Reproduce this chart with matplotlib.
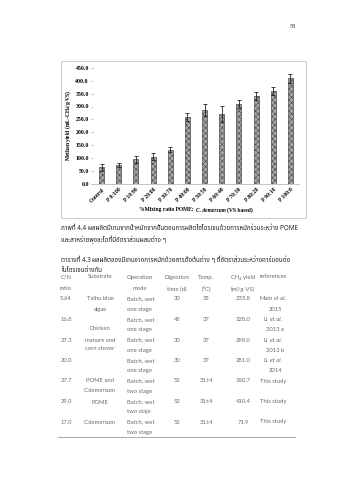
import matplotlib
matplotlib.use("Agg")
import matplotlib.pyplot as plt
from matplotlib import font_manager
from matplotlib.patches import Rectangle
from matplotlib.lines import Line2D

# ---- data ----
categories = ['Control', 'P 0:100', 'P 10:90', 'P 20:80', 'P 30:70', 'P 40:60',
              'P 50:50', 'P 60:40', 'P 70:30', 'P 80:20', 'P 90:10', 'P 100:0']
methane_yield = [63, 71.9, 95, 105, 132, 258, 286, 270, 309, 340, 360.7, 410.4]
yield_err = [14, 7, 14, 12, 11, 15, 23, 31, 16, 16, 17, 18]
y_ticks = [0, 50, 100, 150, 200, 250, 300, 350, 400, 450]

table_header = [["C/N", "ratio"], ["Substrate", ""], ["Operation", "mode"],
                ["Digestion", "time (d)"], ["Temp.", "(°C)"],
                ["CH₄ yield", "(ml/g-VS)"], ["references", ""]]
cn_ratio = ["5.64", "16.8", "27.3", "20.0", "27.7", "29.0", "17.0"]
operation = ["Batch, wet", "Batch, wet", "Batch, wet", "Batch, wet",
             "Batch, wet", "Batch, wet", "Batch, wet"]
stage = ["one stage", "one stage", "one stage", "one stage",
         "two stage", "two staje", "two stage"]
digestion_days = ["30", "45", "30", "30", "52", "52", "52"]
temperature = ["35", "37", "37", "37", "31±4", "31±4", "31±4"]
ch4_yield = ["233.8", "328.0", "298.0", "281.0", "360.7", "410.4", "71.9"]
ref_author = ["Maio", "Li", "Li", "Li", "This study", "This study", "This study"]
ref_year = ["2015", "2013 a", "2013 b", "2014", "", "", ""]

fig_caption_bold = "ภาพที่ 4.4"
fig_caption_1 = "ผลผลิตมีเทนจากน้ำหมักจากขั้นตอนการผลิตไฮโดรเจนด้วยการหมักร่วมระหว่าง POME"
fig_caption_2 = "และสาหร่ายพุงชะโดที่มีอัตราส่วนผสมต่าง ๆ"
tab_caption_bold = "ตารางที่ 4.3"
tab_caption_1 = "ผลผลิตของมีเทนจากการหมักด้วยสารตั้งต้นต่าง ๆ ที่อัตราส่วนระหว่างคาร์บอนต่อ"
tab_caption_2 = "ไนโตรเจนต่างกัน"

# ---- fonts ----
available = {f.name for f in font_manager.fontManager.ttflist}
thai_pref = ["Noto Sans Thai", "Noto Sans Thai Looped", "Noto Serif Thai", "Loma",
             "Garuda", "Norasi", "Sarabun", "TH Sarabun New", "Tlwg Typo",
             "Noto Sans", "DejaVu Sans"]
thai_fonts = [f for f in thai_pref if f in available] or ["DejaVu Sans"]
serif = ["Liberation Serif", "DejaVu Serif"]
table_font = [f for f in ["Lato", "Open Sans", "DejaVu Sans"] if f in available]

plt.rcParams['hatch.linewidth'] = 0.45
plt.rcParams['mathtext.fontset'] = 'custom'
plt.rcParams['mathtext.rm'] = 'Liberation Serif:bold'
plt.rcParams['mathtext.bf'] = 'Liberation Serif:bold'
plt.rcParams['mathtext.it'] = 'Liberation Serif:bold:italic'

W, H = 339, 480
fig = plt.figure(figsize=(W / 100, H / 100), dpi=100)
fig.patch.set_facecolor("white")


def fx(x):
    return x / W


def fy(y):
    return 1 - y / H


def text_run(x, y, parts, align="left", size=4.2, color="#222222", family=None):
    """Draw consecutive text pieces of different styles, separated by a space."""
    fig.canvas.draw()
    renderer = fig.canvas.get_renderer()
    gap = size * 0.27 * fig.dpi / 72
    arts = []
    for s, kw in parts:
        t = fig.text(0, fy(y), s, ha="left", va="center", fontsize=size, color=color,
                     fontfamily=family, **kw)
        arts.append(t)
    widths = [a.get_window_extent(renderer).width for a in arts]
    total = sum(widths) + gap * (len(arts) - 1)
    if align == "left":
        pos = x
    elif align == "center":
        pos = x - total / 2
    else:
        pos = x - total
    for a, w in zip(arts, widths):
        a.set_x(fx(pos))
        pos += w + gap


# ---- chart frame ----
fig.patches.append(Rectangle((fx(61), fy(218)), fx(305.5) - fx(61), fy(61) - fy(218),
                             transform=fig.transFigure, fill=False,
                             edgecolor="#cfcfcf", linewidth=0.8))

ax = fig.add_axes([fx(93), fy(183.5), fx(299) - fx(93), fy(68) - fy(183.5)])
x = list(range(len(categories)))
ax.bar(x, methane_yield, width=0.3, color="#a8a8a8", edgecolor="#4a4a4a",
       hatch="xxxxxx", linewidth=0.5, zorder=2)
ax.errorbar(x, methane_yield, yerr=yield_err, fmt="none", ecolor="#222222",
            elinewidth=0.6, capsize=1.6, capthick=0.6, zorder=3)
ax.set_xlim(-0.5, len(categories) - 0.5)
ax.set_ylim(0, 450)
ax.set_yticks(y_ticks)
ax.set_yticklabels([f"{v:.1f}" for v in y_ticks], fontfamily=serif,
                   fontweight="bold", fontsize=4.2)
ax.set_xticks(x)
ax.set_xticklabels(categories, rotation=45, ha="right", va="top",
                   rotation_mode="anchor", fontfamily=serif,
                   fontweight="bold", fontsize=4.0)
ax.tick_params(axis="y", length=1.5, width=0.4, pad=1.5, color="#888888")
ax.tick_params(axis="x", length=0, pad=2.5)
for s in ["top", "right", "left"]:
    ax.spines[s].set_visible(False)
ax.spines["bottom"].set_color("#bbbbbb")
ax.spines["bottom"].set_linewidth(0.6)
ax.patch.set_alpha(0)

ax.set_ylabel("Methan yield (mL-CH$_4$/g-VS)", fontfamily=serif,
              fontweight="bold", fontsize=4.0, labelpad=2)
text_run(196, 210, [("%Mixing ratio POME:", dict(fontweight="bold")),
                    ("C. demersum", dict(fontweight="bold", fontstyle="italic")),
                    ("(VS based)", dict(fontweight="bold"))],
         align="center", size=4.0, color="black", family=serif)

# page number
fig.text(fx(293), fy(26), "58", ha="center", va="center", fontfamily=serif,
         fontsize=4.5, color="#333333")

# ---- captions ----
cap_size = 4.5
text_run(61, 228, [(fig_caption_bold, dict(fontweight="bold", fontstyle="italic")),
                   (fig_caption_1, {})], size=cap_size, family=thai_fonts)
fig.text(fx(61), fy(240), fig_caption_2, ha="left", va="center",
         fontfamily=thai_fonts, fontsize=cap_size, color="#222222")
text_run(61, 260, [(tab_caption_bold, dict(fontweight="bold", fontstyle="italic")),
                   (tab_caption_1, {})], size=cap_size, family=thai_fonts)
fig.text(fx(61), fy(271), tab_caption_2, ha="left", va="center",
         fontfamily=thai_fonts, fontsize=cap_size, color="#222222")

# ---- table ----
tcol = "#6a6a6a"
tsize = 4.2
col_x = [66, 100, 140, 177, 206, 243, 273]
hdr_y = [277, 289]
for cx, (l1, l2) in zip(col_x, table_header):
    fig.text(fx(cx), fy(hdr_y[0]), l1, ha="center", va="center",
             fontfamily=table_font, fontsize=tsize, color=tcol)
    if l2:
        fig.text(fx(cx), fy(hdr_y[1]), l2, ha="center", va="center",
                 fontfamily=table_font, fontsize=tsize, color=tcol)

row_top = 299
row_h = 20.5
substrate_lines = {299: "Taihu blue", 309: "algae", 329: "Chicken", 340: "manure and",
                   349: "corn stover", 381: "POME and", 391: "C.demersum",
                   402: "POME", 422: "C.demersum"}
for yy, s in substrate_lines.items():
    fig.text(fx(100), fy(yy), s, ha="center", va="center",
             fontfamily=table_font, fontsize=tsize, color=tcol)

for i in range(len(cn_ratio)):
    y1 = row_top + i * row_h
    y2 = y1 + 10.2
    fig.text(fx(66), fy(y1), cn_ratio[i], ha="center", va="center",
             fontfamily=table_font, fontsize=tsize, color=tcol)
    fig.text(fx(127), fy(y1), operation[i], ha="left", va="center",
             fontfamily=table_font, fontsize=tsize, color=tcol)
    fig.text(fx(127), fy(y2), stage[i], ha="left", va="center",
             fontfamily=table_font, fontsize=tsize, color=tcol)
    fig.text(fx(177), fy(y1), digestion_days[i], ha="center", va="center",
             fontfamily=table_font, fontsize=tsize, color=tcol)
    fig.text(fx(206), fy(y1), temperature[i], ha="center", va="center",
             fontfamily=table_font, fontsize=tsize, color=tcol)
    fig.text(fx(243), fy(y1), ch4_yield[i], ha="center", va="center",
             fontfamily=table_font, fontsize=tsize, color=tcol)
    if ref_year[i]:
        text_run(273, y1, [(ref_author[i], {}),
                           ("et al.", dict(fontstyle="italic"))],
                 align="center", size=tsize, color=tcol, family=table_font)
        fig.text(fx(275), fy(y2), ref_year[i], ha="center", va="center",
                 fontfamily=table_font, fontsize=tsize, color=tcol)
    else:
        fig.text(fx(273), fy(y1), ref_author[i], ha="center", va="center",
                 fontfamily=table_font, fontsize=tsize, color=tcol)

fig.add_artist(Line2D([fx(58), fx(295)], [fy(437), fy(437)], transform=fig.transFigure,
                      color="#9a9a9a", linewidth=0.6))

fig.savefig("out.png", dpi=100, facecolor="white")
